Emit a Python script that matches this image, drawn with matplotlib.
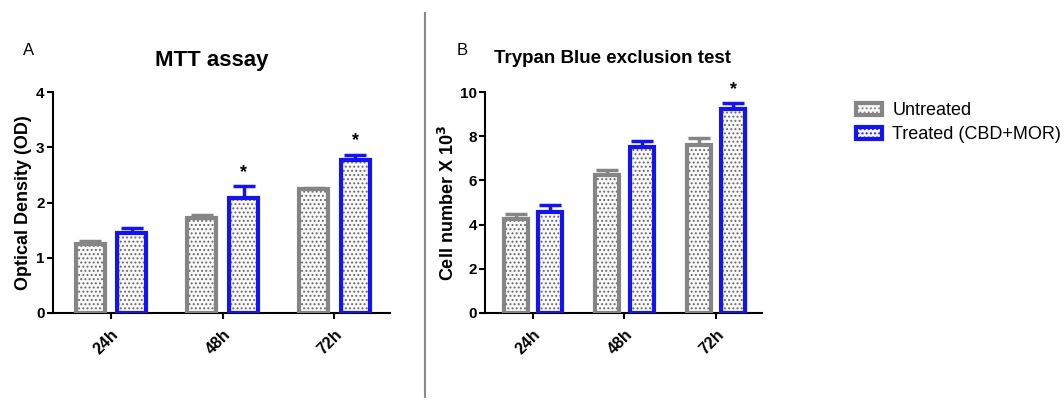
import numpy as np
import matplotlib
matplotlib.use("Agg")
import matplotlib.pyplot as plt
from matplotlib.patches import Patch

plt.rcParams['font.family'] = ['Liberation Sans', 'DejaVu Sans']
plt.rcParams['hatch.linewidth'] = 0.9

# data
times = ["24h", "48h", "72h"]
groups = ["Untreated", "Treated (CBD+MOR)"]

mtt_untreated = [1.25, 1.72, 2.24]
mtt_untreated_err = [0.05, 0.05, 0.02]
mtt_treated = [1.45, 2.09, 2.77]
mtt_treated_err = [0.08, 0.20, 0.09]
mtt_stars = [False, True, True]

trypan_untreated = [4.25, 6.25, 7.62]
trypan_untreated_err = [0.25, 0.22, 0.30]
trypan_treated = [4.57, 7.50, 9.23]
trypan_treated_err = [0.30, 0.27, 0.28]
trypan_stars = [False, False, True]

gray = "#858585"
blue = "#1414f0"
dot_color = "#6a6a6a"
fill = "#f8f8f8"
hatch = "...."


def draw_bars(ax, x, vals, errs, color):
    # dotted fill
    ax.bar(x, vals, width=0.26, color=fill, hatch=hatch,
           edgecolor=dot_color, linewidth=0, zorder=2)
    # outline
    ax.bar(x, vals, width=0.26, facecolor="none", edgecolor=color,
           linewidth=3, zorder=3)
    ax.errorbar(x, vals, yerr=[np.zeros(len(errs)), errs], fmt="none",
                ecolor=color, elinewidth=2.5, capsize=8, capthick=2.5, zorder=1)


def style_axis(ax, ymax, step, ylabel, labelpad):
    ax.set_xlim(-0.52, 2.5)
    ax.set_ylim(0, ymax)
    ax.set_yticks(np.arange(0, ymax + 0.01, step))
    ax.set_xticks(range(len(times)))
    ax.set_xticklabels(times, rotation=45, ha="right", va="top",
                       rotation_mode="anchor", fontsize=11.5, fontweight="bold")
    for lbl in ax.get_yticklabels():
        lbl.set_fontweight("bold")
        lbl.set_fontsize(11)
    for s in ["top", "right"]:
        ax.spines[s].set_visible(False)
    for s in ["left", "bottom"]:
        ax.spines[s].set_linewidth(1.5)
    ax.tick_params(axis="both", direction="out", length=4, width=1.5)
    ax.tick_params(axis="y", pad=2)
    ax.tick_params(axis="x", pad=6)
    ax.set_ylabel(ylabel, fontsize=13, fontweight="bold", labelpad=labelpad)


fig = plt.figure(figsize=(10.64, 4.01), dpi=100, facecolor="white")

axA = fig.add_axes([0.0498, 0.2195, 0.3167, 0.551])
axB = fig.add_axes([0.456, 0.2195, 0.260, 0.551])

x = np.arange(len(times))
off = 0.188

draw_bars(axA, x - off, mtt_untreated, mtt_untreated_err, gray)
draw_bars(axA, x + off, mtt_treated, mtt_treated_err, blue)
for i, s in enumerate(mtt_stars):
    if s:
        axA.text(x[i] + off, mtt_treated[i] + mtt_treated_err[i] + 0.1, "*",
                 ha="center", va="bottom", fontsize=13, fontweight="bold")
style_axis(axA, 4, 1, "Optical Density (OD)", 3)

draw_bars(axB, x - off, trypan_untreated, trypan_untreated_err, gray)
draw_bars(axB, x + off, trypan_treated, trypan_treated_err, blue)
for i, s in enumerate(trypan_stars):
    if s:
        axB.text(x[i] + off, trypan_treated[i] + trypan_treated_err[i] + 0.2, "*",
                 ha="center", va="bottom", fontsize=13, fontweight="bold")
style_axis(axB, 10, 2, r"Cell number X 10$^\mathbf{3}$", 1)

# titles and panel letters
fig.text(0.199, 0.85, "MTT assay", ha="center", va="center",
         fontsize=16, fontweight="bold")
fig.text(0.576, 0.853, "Trypan Blue exclusion test", ha="center", va="center",
         fontsize=13.5, fontweight="bold")
fig.text(0.027, 0.875, "A", ha="center", va="center", fontsize=12)
fig.text(0.434, 0.875, "B", ha="center", va="center", fontsize=12)

# divider line
fig.add_artist(plt.Line2D([0.3995, 0.3995], [0.01, 0.967], color="#8a8a8a",
                          linewidth=1.5, transform=fig.transFigure))

handles = [Patch(facecolor=fill, edgecolor=gray, linewidth=3, hatch=hatch),
           Patch(facecolor=fill, edgecolor=blue, linewidth=3, hatch=hatch)]
fig.legend(handles, groups, loc="upper left", bbox_to_anchor=(0.798, 0.763),
           frameon=False, fontsize=13, handlelength=1.4, handleheight=0.7,
           handletextpad=0.6, labelspacing=0.4, borderaxespad=0)

fig.savefig("out.png", dpi=100, facecolor="white")
